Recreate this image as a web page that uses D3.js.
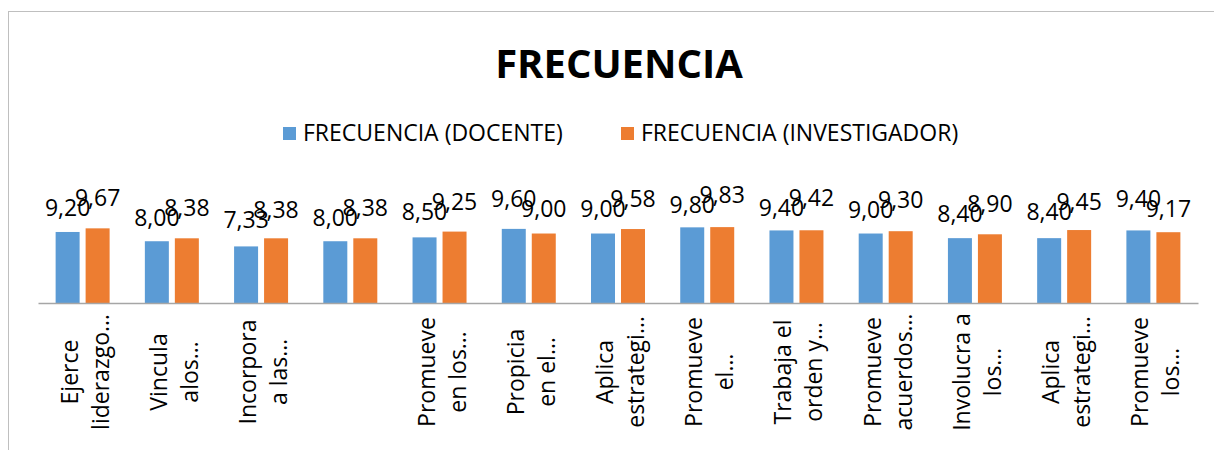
<!DOCTYPE html>
<html>
<head>
<meta charset="utf-8">
<script src="https://cdn.jsdelivr.net/npm/d3@7"></script>
<style>
    body { margin: 0; background: #fff; }
    svg { display: block; font-family: "Open Sans", sans-serif; }
</style>
</head>
<body>
<div class="chart"></div>
<script>
// data
const categories = [
    ["Ejerce", "liderazgo…"],
    ["Vincula", "alos…"],
    ["Incorpora", "a las…"],
    ["", ""],
    ["Promueve", "en los…"],
    ["Propicia", "en el…"],
    ["Aplica", "estrategi…"],
    ["Promueve", "el…"],
    ["Trabaja el", "orden y…"],
    ["Promueve", "acuerdos…"],
    ["Involucra a", "los…"],
    ["Aplica", "estrategi…"],
    ["Promueve", "los…"]
];
const seriesNames = ["FRECUENCIA (DOCENTE)", "FRECUENCIA (INVESTIGADOR)"];
const docente = [9.20, 8.00, 7.33, 8.00, 8.50, 9.60, 9.00, 9.80, 9.40, 9.00, 8.40, 8.40, 9.40];
const investigador = [9.67, 8.38, 8.38, 8.38, 9.25, 9.00, 9.58, 9.83, 9.42, 9.30, 8.90, 9.45, 9.17];
const colors = ["#5b9bd5", "#ed7d31"];

const width = 1214, height = 450;
const baseY = 303;

const svg = d3.select(".chart")
    .append("svg")
    .attr("width", width)
    .attr("height", height);

// chart frame (cut off at right/bottom like the picture)
svg.append("rect")
    .attr("x", 8.5)
    .attr("y", 11.5)
    .attr("width", 1400)
    .attr("height", 600)
    .attr("fill", "none")
    .attr("stroke", "#bfbfbf");

// title
svg.append("text")
    .attr("x", 619)
    .attr("y", 78)
    .attr("text-anchor", "middle")
    .style("font-size", "40px")
    .style("font-weight", "bold")
    .text("FRECUENCIA");

// legend
const legendX = [283, 621];
const legend = svg.selectAll(".legend")
    .data(seriesNames)
    .enter()
    .append("g")
    .attr("class", "legend")
    .attr("transform", (d, i) => `translate(${legendX[i]}, 127)`);

legend.append("rect")
    .attr("width", 13)
    .attr("height", 13)
    .attr("fill", (d, i) => colors[i]);

legend.append("text")
    .attr("x", 20)
    .attr("y", 14)
    .style("font-size", "23px")
    .text(d => d);

// scales
const x0 = d3.scaleBand()
    .domain(d3.range(categories.length))
    .range([38, 1198])
    .paddingInner(0.395)
    .paddingOuter(0.1975);

const x1 = d3.scaleBand()
    .domain([0, 1])
    .range([0, x0.bandwidth()])
    .paddingInner(0.2);

const y = d3.scaleLinear()
    .domain([0, 10])
    .range([baseY, baseY - 77.2]);

const rows = categories.map((c, i) => ({ i: i, values: [docente[i], investigador[i]] }));

const groups = svg.append("g")
    .attr("class", "bars")
    .selectAll("g")
    .data(rows)
    .enter()
    .append("g")
    .attr("transform", d => `translate(${x0(d.i)}, 0)`);

groups.selectAll("rect")
    .data(d => d.values.map((v, s) => ({ v: v, s: s })))
    .enter()
    .append("rect")
    .attr("x", d => x1(d.s))
    .attr("y", d => y(d.v))
    .attr("width", x1.bandwidth())
    .attr("height", d => baseY - y(d.v))
    .attr("fill", d => colors[d.s]);

const fmt = v => d3.format(".2f")(v).replace(".", ",");

// label baselines: sit above the bar, pushed apart a bit when the pair collides
function labelYs(values) {
    let ys = values.map(v => y(v) - 19);
    const minGap = 10;
    if (Math.abs(ys[0] - ys[1]) < minGap) {
        const mid = (ys[0] + ys[1]) / 2;
        const up = values[1] >= values[0] ? 1 : 0;
        ys[up] = mid - minGap / 2;
        ys[1 - up] = mid + minGap / 2;
    }
    return ys;
}

groups.selectAll("text")
    .data(d => {
        const ys = labelYs(d.values);
        return d.values.map((v, s) => ({ v: v, s: s, ly: ys[s] }));
    })
    .enter()
    .append("text")
    .attr("x", d => x1(d.s) + x1.bandwidth() / 2)
    .attr("y", d => d.ly)
    .attr("text-anchor", "middle")
    .style("font-size", "23px")
    .text(d => fmt(d.v));

// x axis
const xAxis = d3.axisBottom(x0)
    .tickSizeInner(0)
    .tickSizeOuter(0);

const xAxisDraw = svg.append("g")
    .attr("class", "x axis")
    .attr("transform", `translate(0, ${baseY})`)
    .call(xAxis);

xAxisDraw.select(".domain")
    .attr("stroke", "#a6a6a6")
    .attr("stroke-width", 1.5);

xAxisDraw.selectAll(".tick text").remove();

const tickText = xAxisDraw.selectAll(".tick")
    .append("text")
    .attr("fill", "#000")
    .attr("text-anchor", "middle")
    .attr("transform", "translate(0, 69) rotate(-90)")
    .style("font-size", "23px")
    .style("font-family", "'Open Sans', sans-serif");

tickText.append("tspan")
    .attr("x", 0)
    .attr("y", -5)
    .text(d => categories[d][0]);

tickText.append("tspan")
    .attr("x", 0)
    .attr("y", 26)
    .text(d => categories[d][1]);
</script>
</body>
</html>
